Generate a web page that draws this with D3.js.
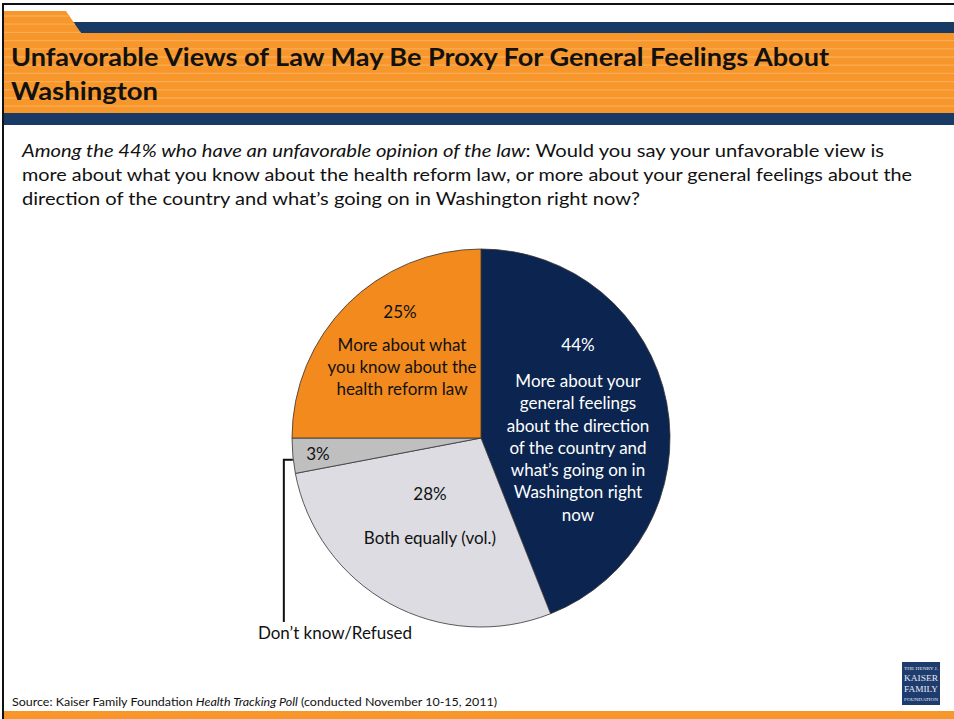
<!DOCTYPE html>
<html><head><meta charset="utf-8">
<script src="https://cdn.jsdelivr.net/npm/d3@7/dist/d3.min.js"></script>
<style>body{margin:0;background:#fff}svg{display:block}</style>
</head><body>
<script>
const categories = ["More about your general feelings", "Both equally (vol.)", "Don't know/Refused", "More about what you know"];
const values = [44, 28, 3, 25];
const sliceColors = ["#0b2550", "#dcdce2", "#bfbfbf", "#f28a1e"];
const labelLines = [
  ["More about your", "general feelings", "about the direction", "of the country and", "what\u2019s going on in", "Washington right", "now"],
  ["Both equally (vol.)"],
  [],
  ["More about what", "you know about the", "health reform law"]
];
const titleLines = ["Unfavorable Views of Law May Be Proxy For General Feelings About", "Washington"];
const sourceParts = ["Source: Kaiser Family Foundation ", "Health Tracking Poll", " (conducted November 10-15, 2011)"];

const W = 954, H = 719;
const svg = d3.select("body").append("svg").attr("width", W).attr("height", H);
const font = "Lato, 'Open Sans', sans-serif";

// frame
svg.append("rect").attr("x", 3).attr("y", 4).attr("width", W).attr("height", H).attr("fill", "none").attr("stroke", "#111").attr("stroke-width", 2);

// header navy band top
svg.append("rect").attr("x", 60).attr("y", 22).attr("width", W).attr("height", 12).attr("fill", "#1a3a66");
// orange header with tab
svg.append("path").attr("d", `M4,11 L66,11 L81,33 L${W},33 L${W},113 L4,113 Z`).attr("fill", "#f7962a");
// stripes
const stripeG = svg.append("g");
d3.range(16, 112, 8.2).forEach(y => {
  stripeG.append("line").attr("x1", 4).attr("x2", y < 33 ? 66 + (y - 11) * 15 / 22 : W).attr("y1", y).attr("y2", y)
    .attr("stroke", "#f9ab55").attr("stroke-width", 1.3);
});
svg.append("rect").attr("x", 4).attr("y", 113).attr("width", W).attr("height", 12).attr("fill", "#1a3a66");

// title
svg.append("text").attr("x", 11).attr("y", 66).attr("font-family", font).attr("font-weight", "bold").attr("font-size", 25)
  .attr("fill", "#111").attr("textLength", 818).attr("lengthAdjust", "spacingAndGlyphs").text(titleLines[0]);
svg.append("text").attr("x", 11).attr("y", 100).attr("font-family", font).attr("font-weight", "bold").attr("font-size", 25)
  .attr("fill", "#111").attr("textLength", 147).attr("lengthAdjust", "spacingAndGlyphs").text(titleLines[1]);

// subtitle
const sub = svg.append("g").attr("font-family", font).attr("font-size", 18).attr("fill", "#111");
const t1 = sub.append("text").attr("x", 22).attr("y", 157).attr("textLength", 862).attr("lengthAdjust", "spacingAndGlyphs");
t1.append("tspan").attr("font-style", "italic").text("Among the 44% who have an unfavorable opinion of the law");
t1.append("tspan").text(": Would you say your unfavorable view is");
sub.append("text").attr("x", 22).attr("y", 181).attr("textLength", 890).attr("lengthAdjust", "spacingAndGlyphs")
  .text("more about what you know about the health reform law, or more about your general feelings about the");
sub.append("text").attr("x", 22).attr("y", 205).attr("textLength", 618).attr("lengthAdjust", "spacingAndGlyphs")
  .text("direction of the country and what\u2019s going on in Washington right now?");

// pie
const cx = 481, cy = 438, R = 189;
const pie = d3.pie().sort(null).value(d => d)(values);
const arc = d3.arc().innerRadius(0).outerRadius(R);
const g = svg.append("g").attr("transform", `translate(${cx},${cy})`);
g.selectAll("path").data(pie).join("path").attr("d", arc).attr("fill", (d, i) => sliceColors[i])
  .attr("stroke", "#333").attr("stroke-width", 0.8);

// labels: offsets relative to pie center
const labelLayout = [
  {x: 97, py: -93, ty: -57, lh: 22.3},
  {x: -51, py: 56, ty: 100, lh: 22},
  {x: -163, py: 16, ty: 0, lh: 22},
  {x: -81, py: -126, ty: -93, lh: 22}
];
const fs = 17;
const lg = g.append("g").attr("font-family", font).attr("font-size", fs).attr("text-anchor", "middle");
pie.forEach((d, i) => {
  const L = labelLayout[i];
  const fill = i === 0 ? "#fff" : "#111";
  lg.append("text").attr("x", L.x).attr("y", L.py).attr("dy", "0.35em").attr("fill", fill).text(values[i] + "%");
  labelLines[i].forEach((s, j) => {
    lg.append("text").attr("x", L.x + (i === 3 ? 2 : 0)).attr("y", L.ty + j * L.lh).attr("dy", "0.35em").attr("fill", fill).text(s);
  });
});
// leader for small slice
const a3 = pie[2];
const mid = (a3.startAngle + a3.endAngle) / 2;
const px = R * Math.sin(mid), py = -R * Math.cos(mid);
g.append("path").attr("d", `M${px},${py + 4} H${px - 9} V${184}`).attr("fill", "none").attr("stroke", "#111").attr("stroke-width", 2);
g.append("text").attr("x", -146).attr("y", 195).attr("dy", "0.35em").attr("font-family", font).attr("font-size", fs)
  .attr("text-anchor", "middle").attr("fill", "#111").text("Don\u2019t know/Refused");

// source
const src = svg.append("text").attr("x", 12).attr("y", 706).attr("font-family", font).attr("font-size", 12).attr("fill", "#111")
  .attr("textLength", 485).attr("lengthAdjust", "spacingAndGlyphs");
sourceParts.forEach((p, i) => src.append("tspan").attr("font-style", i === 1 ? "italic" : "normal").text(p));

// bottom band
svg.append("rect").attr("x", 4).attr("y", 711).attr("width", W).attr("height", 10).attr("fill", "#f7962a");

// logo
const logo = svg.append("g").attr("transform", "translate(902,662)");
logo.append("rect").attr("width", 38).attr("height", 43).attr("fill", "#1f3c6e");
[["THE HENRY J.", 8, 4], ["KAISER", 19, 9], ["FAMILY", 30, 9], ["FOUNDATION", 39, 4]].forEach(([t, y, s]) => {
  logo.append("text").attr("x", 19).attr("y", y).attr("text-anchor", "middle").attr("font-family", "'Liberation Serif', serif")
    .attr("font-size", s).attr("fill", "#e8ecf4").attr("textLength", 34).attr("lengthAdjust", "spacingAndGlyphs").text(t);
});
</script>
</body></html>
